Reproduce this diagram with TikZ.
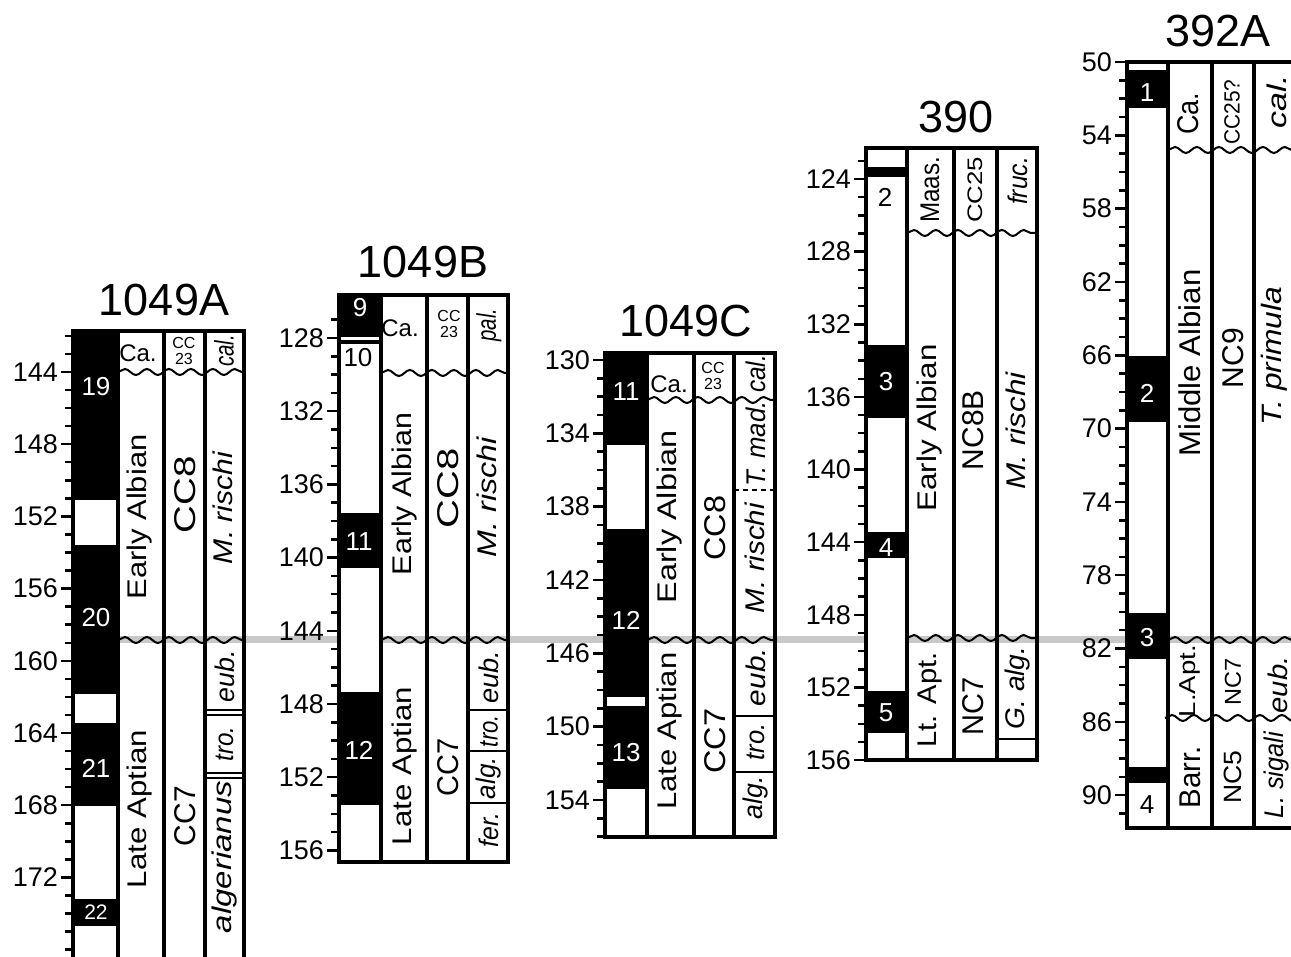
\documentclass[tikz,border=0pt]{standalone}
\usepackage{fontspec}
\setmainfont{Liberation Sans}
\usepackage{graphicx}
\usetikzlibrary{decorations.pathmorphing}
\definecolor{hiatusGray}{RGB}{200,200,200}

\newcommand{\fsz}[1]{\fontsize{#1}{#1}\selectfont}
\newcommand{\vlab}[2]{\resizebox{#1pt}{\height}{#2}}
% depth scale: prefix, x of column, y0, depth0, px per m, first/last tick, labels
\newcommand{\depthaxis}[8]{%
  \foreach \dep in {#6,...,#7}
    \draw[tickline] ({#2-8},{#3+(\dep-#4)*#5}) -- (#2,{#3+(\dep-#4)*#5});
  \foreach \dep in {#8}{
    \draw[tickline] ({#2-12},{#3+(\dep-#4)*#5}) -- (#2,{#3+(\dep-#4)*#5});
    \node[depthlbl] (#1\dep) at ({#2-15},{#3+(\dep-#4)*#5}) {\dep};
  }}

\tikzset{
  colframe/.style={line width=4pt},
  divider/.style={line width=3.5pt},
  tickline/.style={line width=2.5pt},
  unconf/.style={line width=2pt, decorate, decoration={snake, segment length=22pt, amplitude=3pt}},
  cellline/.style={line width=2pt},
  hiatus/.style={hiatusGray, line width=7pt},
  sitetitle/.style={font=\fsz{45}, inner sep=0pt},
  depthlbl/.style={anchor=east, font=\fsz{27}, inner sep=0pt},
  chronlbl/.style={font=\fsz{26}, inner sep=0pt},
  stagetxt/.style={rotate=90, font=\fsz{27}, inner sep=0pt},
  nannotxt/.style={rotate=90, font=\fsz{30}, inner sep=0pt},
  foramtxt/.style={rotate=90, font=\fsz{27}\itshape, inner sep=0pt},
  toptxt/.style={font=\fsz{24}, inner sep=0pt},
  cctxt/.style={font=\fsz{16}, align=center, inner sep=0pt},
}

\begin{document}
\begin{tikzpicture}[x=1pt,y=-1pt]
  \path[use as bounding box] (0,0) rectangle (1291,957);
  \clip (0,0) rectangle (1291,957);

  % hiatus line
  \draw[hiatus] (118,639) -- (1291,639);

  % Site 1049A
  \node[sitetitle] (ttlA) at (164,300) {1049A};
  \fill[white] (73,331) rectangle (118,965);
  \fill (73,331) rectangle (118,500);
  \fill (73,545) rectangle (118,694);
  \fill (73,723) rectangle (118,806);
  \fill (73,899) rectangle (118,926);
  \draw[unconf] (118,372) -- (244,372);
  \draw[unconf] (118,640) -- (244,640);
  \draw[cellline] (205,710) -- (244,710) (205,715) -- (244,715)
    (205,773) -- (244,773) (205,778) -- (244,778);
  \draw[colframe] (73,331) rectangle (244,965);
  \draw[divider] (118,331) -- (118,965) (164,331) -- (164,965) (205,331) -- (205,965);
  \depthaxis{dA}{73}{372}{144}{18.05}{142}{176}{144,148,...,172}
  \node[chronlbl, text=white] (mA19) at (96,387) {19};
  \node[chronlbl, text=white] (mA20) at (96,618) {20};
  \node[chronlbl, text=white] (mA21) at (96,768) {21};
  \node[chronlbl, text=white, font=\fsz{21}] (mA22) at (96,912) {22};
  \node[toptxt] (caA) at (138,353) {Ca.};
  \node[cctxt] (ccA) at (184,351) {CC\\23};
  \node[foramtxt] (calA) at (224,351) {\vlab{32}{cal.}};
  \node[stagetxt] (eaA) at (140,517) {\vlab{165}{Early Albian}};
  \node[stagetxt] (laA) at (140,809) {\vlab{158}{Late Aptian}};
  \node[nannotxt] (cc8A) at (185,495) {\vlab{77}{CC8}};
  \node[nannotxt] (cc7A) at (185,816) {\vlab{60}{CC7}};
  \node[foramtxt] (mrA) at (223,508) {\vlab{112}{M. rischi}};
  \node[foramtxt] (eubA) at (225,676) {\vlab{52}{eub.}};
  \node[foramtxt] (troA) at (225,744) {\vlab{35}{tro.}};
  \node[foramtxt] (algA) at (225,857) {\vlab{152}{algerianus}};

  % Site 1049B
  \node[sitetitle] (ttlB) at (423,262) {1049B};
  \fill[white] (339,295) rectangle (381,862);
  \fill (339,295) rectangle (381,337);
  \fill (339,340) rectangle (381,344);
  \fill (339,513) rectangle (381,568);
  \fill (339,692) rectangle (381,805);
  \draw[unconf] (381,373) -- (508,373);
  \draw[unconf] (381,640) -- (508,640);
  \draw[cellline] (468,710) -- (508,710) (468,751) -- (508,751) (468,803) -- (508,803);
  \draw[colframe] (339,295) rectangle (508,862);
  \draw[divider] (381,295) -- (381,862) (427,295) -- (427,862) (468,295) -- (468,862);
  \depthaxis{dB}{339}{338}{128}{18.3}{127}{156}{128,132,...,156}
  \node[chronlbl, text=white] (mB9) at (360,308) {9};
  \node[chronlbl] (mB10) at (358,358) {10};
  \node[chronlbl, text=white] (mB11) at (359,542) {11};
  \node[chronlbl, text=white] (mB12) at (359,750) {12};
  \node[toptxt] (caB) at (400,328) {Ca.};
  \node[cctxt] (ccB) at (449,324) {CC\\23};
  \node[foramtxt] (palB) at (489,325) {\vlab{33}{pal.}};
  \node[stagetxt] (eaB) at (405,494) {\vlab{162}{Early Albian}};
  \node[stagetxt] (laB) at (405,766) {\vlab{158}{Late Aptian}};
  \node[nannotxt] (cc8B) at (448,488) {\vlab{80}{CC8}};
  \node[nannotxt] (cc7B) at (448,767) {\vlab{58}{CC7}};
  \node[foramtxt] (mrB) at (487,497) {\vlab{120}{M. rischi}};
  \node[foramtxt] (eubB) at (489,677) {\vlab{53}{eub.}};
  \node[foramtxt] (troB) at (489,731) {\vlab{32}{tro.}};
  \node[foramtxt] (algB) at (489,778) {\vlab{42}{alg.}};
  \node[foramtxt] (ferB) at (489,830) {\vlab{35}{fer.}};

  % Site 1049C
  \node[sitetitle] (ttlC) at (686,321) {1049C};
  \fill[white] (605,353) rectangle (647,837);
  \fill (605,353) rectangle (647,445);
  \fill (605,529) rectangle (647,697);
  \fill (605,706) rectangle (647,789);
  \draw[unconf] (647,400) -- (775,400);
  \draw[unconf] (647,640) -- (775,640);
  \draw[cellline, dash pattern=on 5pt off 4pt] (734,490) -- (775,490);
  \draw[cellline] (734,716) -- (775,716) (734,772) -- (775,772);
  \draw[colframe] (605,353) rectangle (775,837);
  \draw[divider] (647,353) -- (647,837) (694,353) -- (694,837) (734,353) -- (734,837);
  \depthaxis{dC}{605}{360}{130}{18.33}{130}{156}{130,134,...,154}
  \node[chronlbl, text=white] (mC11) at (626,392) {11};
  \node[chronlbl, text=white] (mC12) at (626,620) {12};
  \node[chronlbl, text=white] (mC13) at (626,753) {13};
  \node[toptxt] (caC) at (669,384) {Ca.};
  \node[cctxt] (ccC) at (713,376) {CC\\23};
  \node[foramtxt] (calC) at (756,374) {\vlab{38}{cal.}};
  \node[foramtxt] (tmC) at (756,444) {\vlab{85}{T. mad.}};
  \node[stagetxt] (eaC) at (670,517) {\vlab{173}{Early Albian}};
  \node[stagetxt] (laC) at (670,731) {\vlab{157}{Late Aptian}};
  \node[nannotxt] (cc8C) at (715,528) {\vlab{65}{CC8}};
  \node[nannotxt] (cc7C) at (715,741) {\vlab{65}{CC7}};
  \node[foramtxt] (mrC) at (755,558) {\vlab{110}{M. rischi}};
  \node[foramtxt] (eubC) at (756,677) {\vlab{58}{eub.}};
  \node[foramtxt] (troC) at (756,742) {\vlab{37}{tro.}};
  \node[foramtxt] (algC) at (756,798) {\vlab{43}{alg.}};

  % Site 390
  \node[sitetitle] (ttlD) at (956,117) {390};
  \fill[white] (866,148) rectangle (907,760);
  \fill (866,167) rectangle (907,177);
  \fill (866,345) rectangle (907,418);
  \fill (866,532) rectangle (907,558);
  \fill (866,691) rectangle (907,733);
  \draw[unconf] (907,233) -- (1037,233);
  \draw[unconf] (907,638) -- (1037,638);
  \draw[cellline] (997,739) -- (1037,739);
  \draw[colframe] (866,148) rectangle (1037,760);
  \draw[divider] (907,148) -- (907,760) (954,148) -- (954,760) (997,148) -- (997,760);
  \depthaxis{dD}{866}{179}{124}{18.16}{123}{156}{124,128,...,156}
  \node[chronlbl] (mD2) at (885,197) {2};
  \node[chronlbl, text=white] (mD3) at (886,382) {3};
  \node[chronlbl, text=white] (mD4) at (886,548) {4};
  \node[chronlbl, text=white] (mD5) at (886,713) {5};
  \node[stagetxt] (maD) at (930,190) {\vlab{66}{Maas.}};
  \node[nannotxt, font=\fsz{21}] (cc25D) at (975,190) {\vlab{66}{CC25}};
  \node[foramtxt] (frD) at (1018,181) {\vlab{48}{fruc.}};
  \node[stagetxt] (eaD) at (930,428) {\vlab{167}{Early Albian}};
  \node[stagetxt] (laD) at (930,700) {\vlab{95}{Lt. Apt.}};
  \node[nannotxt] (nc8D) at (973,430) {\vlab{80}{NC8B}};
  \node[nannotxt] (nc7D) at (973,706) {\vlab{58}{NC7}};
  \node[foramtxt] (mrD) at (1016,431) {\vlab{117}{M. rischi}};
  \node[foramtxt] (gaD) at (1018,688) {\vlab{83}{G. alg.}};

  % Site 392A
  \node[sitetitle] (ttlE) at (1218,31) {392A};
  \fill[white] (1127,62) rectangle (1168,828);
  \fill (1127,70) rectangle (1168,108);
  \fill (1127,356) rectangle (1168,422);
  \fill (1127,613) rectangle (1168,659);
  \fill (1127,767) rectangle (1168,783);
  \draw[unconf] (1168,150) -- (1300,150);
  \draw[unconf] (1168,640) -- (1300,640);
  \draw[unconf] (1165,718) -- (1300,718);
  \draw[colframe] (1127,62) rectangle (1297,828);
  \draw[divider] (1168,62) -- (1168,828) (1212,62) -- (1212,828) (1254,62) -- (1254,828);
  \depthaxis{dE}{1127}{62}{50}{18.33}{50}{91}{50,54,...,90}
  \node[chronlbl, text=white] (mE1) at (1147,93) {1};
  \node[chronlbl, text=white] (mE2) at (1147,393) {2};
  \node[chronlbl, text=white] (mE3) at (1147,638) {3};
  \node[chronlbl] (mE4) at (1147,805) {4};
  \node[stagetxt, font=\fsz{30}] (caE) at (1188,114) {\vlab{42}{Ca.}};
  \node[nannotxt, font=\fsz{22}] (cc25E) at (1232,112) {\vlab{65}{CC25?}};
  \node[foramtxt] (calE) at (1277,102) {\vlab{53}{cal.}};
  \node[stagetxt, font=\fsz{30}] (maE) at (1190,363) {\vlab{187}{Middle Albian}};
  \node[nannotxt] (nc9E) at (1233,358) {\vlab{60}{NC9}};
  \node[foramtxt, font=\fsz{28}\itshape] (tpE) at (1274,356) {\vlab{138}{T. primula}};
  \node[stagetxt, font=\fsz{23}] (laE) at (1190,681) {\vlab{72}{L.Apt.}};
  \node[nannotxt, font=\fsz{23}] (nc7E) at (1233,682) {\vlab{47}{NC7}};
  \node[foramtxt] (eubE) at (1278,685) {\vlab{57}{eub.}};
  \node[stagetxt, font=\fsz{30}] (baE) at (1190,777) {\vlab{62}{Barr.}};
  \node[nannotxt, font=\fsz{25}] (nc5E) at (1233,777) {\vlab{53}{NC5}};
  \node[foramtxt] (lsE) at (1277,775) {\vlab{86}{L. sigali}};
\end{tikzpicture}
\end{document}
